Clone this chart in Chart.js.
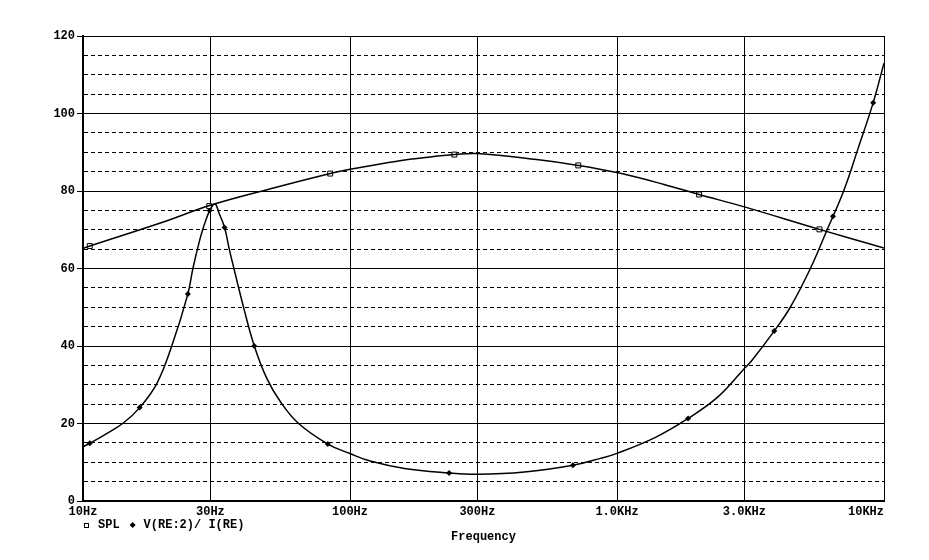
<!DOCTYPE html>
<html>
<head>
<meta charset="utf-8">
<title>SPL and impedance vs frequency</title>
<script src="https://cdn.jsdelivr.net/npm/chart.js@4.4.1/dist/chart.umd.min.js"></script>
<style>
  html, body { margin: 0; padding: 0; background: #fff; }
</style>
</head>
<body>
<canvas id="chart" width="929" height="560"></canvas>
<script>
// ---- data ----
const seriesNames = ['SPL', 'V(RE:2)/ I(RE)'];

const xTickValues = [10, 30, 100, 300, 1000, 3000, 10000];
const xTickLabels = ['10Hz', '30Hz', '100Hz', '300Hz', '1.0KHz', '3.0KHz', '10KHz'];

// SPL curve (dB)
const splFreq = [10, 10.6, 20, 30, 50, 84.3, 100, 150, 200, 246, 300, 500, 716, 1000, 1500, 2030, 3000, 5730, 10000];
const splDb   = [65.2, 65.8, 72.0, 76.3, 80.5, 84.5, 85.6, 87.7, 88.8, 89.4, 89.65, 88.1, 86.6, 84.75, 81.7, 79.1, 75.9, 70.1, 65.3];
// SPL markers
const splMarkFreq = [10.6, 29.7, 84.3, 246, 716, 2030, 5730];
const splMarkDb   = [65.8, 76.1, 84.5, 89.4, 86.6, 79.1, 70.1];

// impedance curve V(RE:2)/I(RE)
const zFreq = [10, 10.6, 12, 14.2, 16.3, 18.9, 21.5, 24.7, 25.8, 27.4, 28.3, 29.8, 30.7, 31.4, 32.2, 33.9, 35.3, 36.6,
  39.9, 43.8, 48.9, 54.9, 64.2, 82.6, 100, 119, 160, 235, 300, 450, 684, 868, 1000, 1400, 1846, 2400, 3000,
  3204, 3882, 4457, 5300, 6080, 7060, 8000, 9110, 10000];
const zOhm = [14.0, 14.9, 17.0, 20.2, 24.1, 30.3, 40.0, 53.4, 60.0, 67.5, 70.8, 75.0, 76.4, 76.6, 74.6, 70.6, 65.0, 60.5,
  50.1, 40.0, 31.5, 25.6, 20.0, 14.7, 12.25, 10.3, 8.4, 7.25, 6.9, 7.5, 9.24, 11.0, 12.3, 16.5, 21.3, 27.0, 34.2,
  36.3, 43.9, 50.0, 60.0, 69.5, 80.0, 91.0, 102.8, 113.0];
// impedance markers
const zMarkFreq = [10.6, 16.3, 24.7, 29.8, 33.9, 43.8, 82.6, 235, 684, 1846, 3882, 6440, 9110];
const zMarkOhm  = [14.9, 24.1, 53.4, 75.0, 70.6, 40.0, 14.7, 7.25, 9.24, 21.3, 43.9, 73.5, 102.8];

const pts = (xs, ys) => xs.map((x, i) => ({ x, y: ys[i] }));

const FONT = '"Liberation Mono", "DejaVu Sans Mono", monospace';

// frequency labels + legend drawn under the plot (last label is kept inside the frame)
const bottomText = {
  id: 'bottomText',
  afterDraw(chart) {
    const { ctx, chartArea } = chart;
    const x = chart.scales.x;
    ctx.save();
    ctx.font = 'bold 12px ' + FONT;
    ctx.fillStyle = '#000';
    ctx.strokeStyle = '#000';
    ctx.textBaseline = 'middle';

    xTickValues.forEach((v, i) => {
      const last = i === xTickValues.length - 1;
      ctx.textAlign = last ? 'right' : 'center';
      ctx.fillText(xTickLabels[i], last ? chartArea.right : x.getPixelForValue(v), chartArea.bottom + 11);
    });

    // legend
    const ly = chartArea.bottom + 24;
    let lx = chartArea.left + 1;
    ctx.textAlign = 'left';
    ctx.lineWidth = 1;
    ctx.strokeRect(Math.round(lx) + 0.5, Math.round(ly - 2) + 0.5, 4, 4);
    lx += 14;
    ctx.fillText(seriesNames[0], lx, ly);
    lx += ctx.measureText(seriesNames[0]).width + 13;
    ctx.beginPath();
    ctx.moveTo(lx, ly - 3);
    ctx.lineTo(lx + 3, ly);
    ctx.lineTo(lx, ly + 3);
    ctx.lineTo(lx - 3, ly);
    ctx.closePath();
    ctx.fill();
    lx += 11;
    ctx.fillText(seriesNames[1], lx, ly);
    ctx.restore();
  }
};

const isMajor = (ctx) => ctx.tick && ctx.tick.value % 20 === 0;

new Chart(document.getElementById('chart'), {
  type: 'line',
  data: {
    datasets: [
      {
        label: seriesNames[0],
        data: pts(splFreq, splDb),
        borderColor: '#000',
        borderWidth: 1.5,
        pointRadius: 0,
        tension: 0.4,
        fill: false,
      },
      {
        label: seriesNames[1],
        data: pts(zFreq, zOhm),
        borderColor: '#000',
        borderWidth: 1.5,
        pointRadius: 0,
        tension: 0.4,
        fill: false,
      },
      {
        label: seriesNames[0] + ' markers',
        data: pts(splMarkFreq, splMarkDb),
        showLine: false,
        pointStyle: 'rect',
        pointRadius: 3.5,
        pointBackgroundColor: '#fff',
        pointBorderColor: '#000',
        pointBorderWidth: 1,
      },
      {
        label: seriesNames[1] + ' markers',
        data: pts(zMarkFreq, zMarkOhm),
        showLine: false,
        pointStyle: 'rectRot',
        pointRadius: 3,
        pointBackgroundColor: '#000',
        pointBorderColor: '#000',
        pointBorderWidth: 0,
      },
    ],
  },
  options: {
    responsive: false,
    animation: false,
    events: [],
    layout: { padding: { left: 0, top: 36, right: 45, bottom: 0 } },
    plugins: {
      legend: { display: false },
      tooltip: { enabled: false },
    },
    scales: {
      x: {
        type: 'logarithmic',
        min: 10,
        max: 10000,
        afterBuildTicks: (s) => { s.ticks = xTickValues.map(v => ({ value: v })); },
        afterFit: (s) => { s.height = 59; },
        ticks: { display: false },
        grid: { color: '#000', lineWidth: 1, drawTicks: false },
        border: { color: '#000', width: 2 },
        title: {
          display: true,
          text: 'Frequency',
          color: '#000',
          font: { family: FONT, size: 12, weight: 'bold' },
          padding: { top: 0, bottom: 16 },
        },
      },
      y: {
        min: 0,
        max: 120,
        afterFit: (s) => { s.width = 83; },
        ticks: {
          stepSize: 5,
          autoSkip: false,
          padding: 2,
          color: '#000',
          font: { family: FONT, size: 12, weight: 'bold' },
          callback: (v) => (v % 20 === 0 ? String(v) : ''),
        },
        grid: {
          color: '#000',
          lineWidth: 1,
          tickLength: 6,
          tickColor: (ctx) => (isMajor(ctx) ? '#000' : 'rgba(0,0,0,0)'),
        },
        border: {
          color: '#000',
          width: 2,
          dash: (ctx) => (ctx.tick && !isMajor(ctx) ? [4, 3] : []),
        },
      },
    },
  },
  plugins: [bottomText],
});
</script>
</body>
</html>
